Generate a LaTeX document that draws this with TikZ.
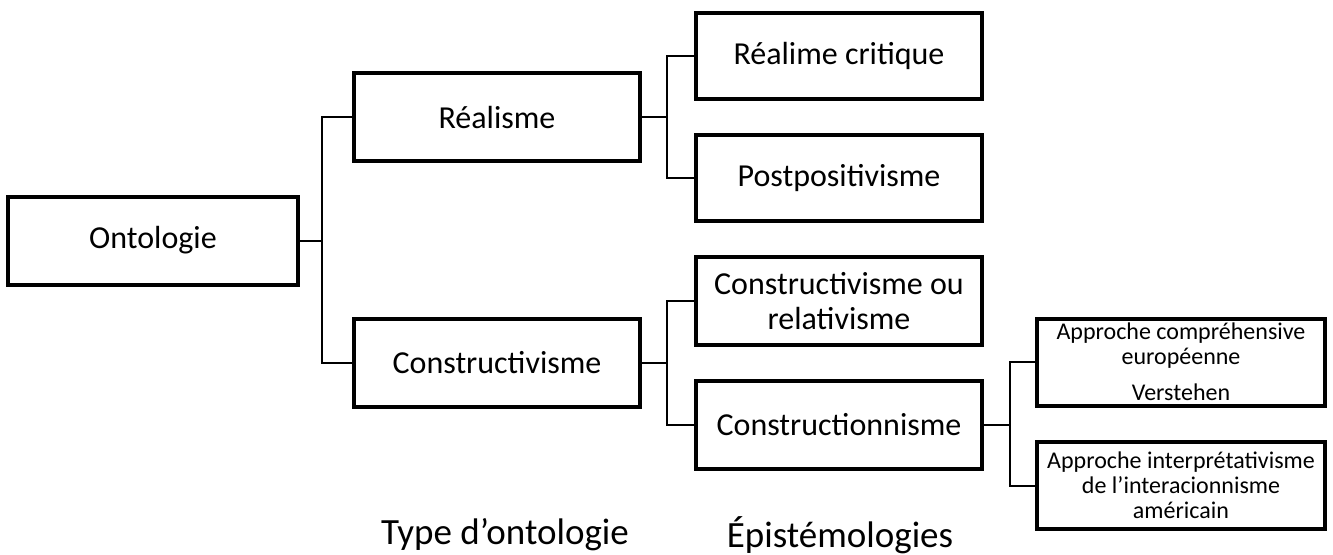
\documentclass[tikz,border=0pt]{standalone}
\usepackage{fontspec}
\setmainfont{Carlito}
\begin{document}
\begin{tikzpicture}[x=0.5pt,y=-0.5pt,
  box/.style={draw, line width=2pt, minimum width=143pt, minimum height=44pt, align=center, font=\fontsize{16}{17.5}\selectfont, inner sep=0pt},
  sbox/.style={draw, line width=2pt, minimum width=144pt, minimum height=43.5pt, align=center, font=\fontsize{12}{12.5}\selectfont, inner sep=0pt},
  conn/.style={line width=1pt},
  lbl/.style={font=\fontsize{18.5}{20}\selectfont, inner sep=0pt}]
\useasboundingbox (0,0) rectangle (1333,554);
% nodes
\node[box, minimum width=145pt] (ont) at (153,240.5) {Ontologie};
\node[box] (real) at (497,117) {Réalisme};
\node[box] (cons) at (497,362.5) {Constructivisme};
\node[box, minimum height=43pt] (rc) at (839,56) {Réalime critique};
\node[box, minimum height=43pt] (post) at (839,178) {Postpositivisme};
\node[box] (crel) at (839,301) {Constructivisme ou\\relativisme};
\node[box] (cion) at (839,424.5) {Constructionnisme};
\node[sbox] (appc) at (1181,362) {Approche compréhensive\\européenne\\[5.5pt]Verstehen};
\node[sbox] (appi) at (1181,485.5) {Approche interprétativisme\\de l'interacionnisme\\américain};
\node[lbl] (tonto) at (505,535) {Type d’ontologie};
\node[lbl] (epi) at (840,535) {Épistémologies};
% junctions
\coordinate (j1) at (322,240.5);
\coordinate (j2) at (667,117);
\coordinate (j3) at (667,362.5);
\coordinate (j4) at (1010,424.5);
% connectors
\draw[conn] (ont.east) -- (j1);
\draw[conn] (real.west) -| (j1) |- (cons.west);
\draw[conn] (real.east) -- (j2);
\draw[conn] (rc.west) -| (j2) |- (post.west);
\draw[conn] (cons.east) -- (j3);
\draw[conn] (crel.west) -| (j3) |- (cion.west);
\draw[conn] (cion.east) -- (j4);
\draw[conn] (appc.west) -| (j4) |- (appi.west);
\end{tikzpicture}
\end{document}
